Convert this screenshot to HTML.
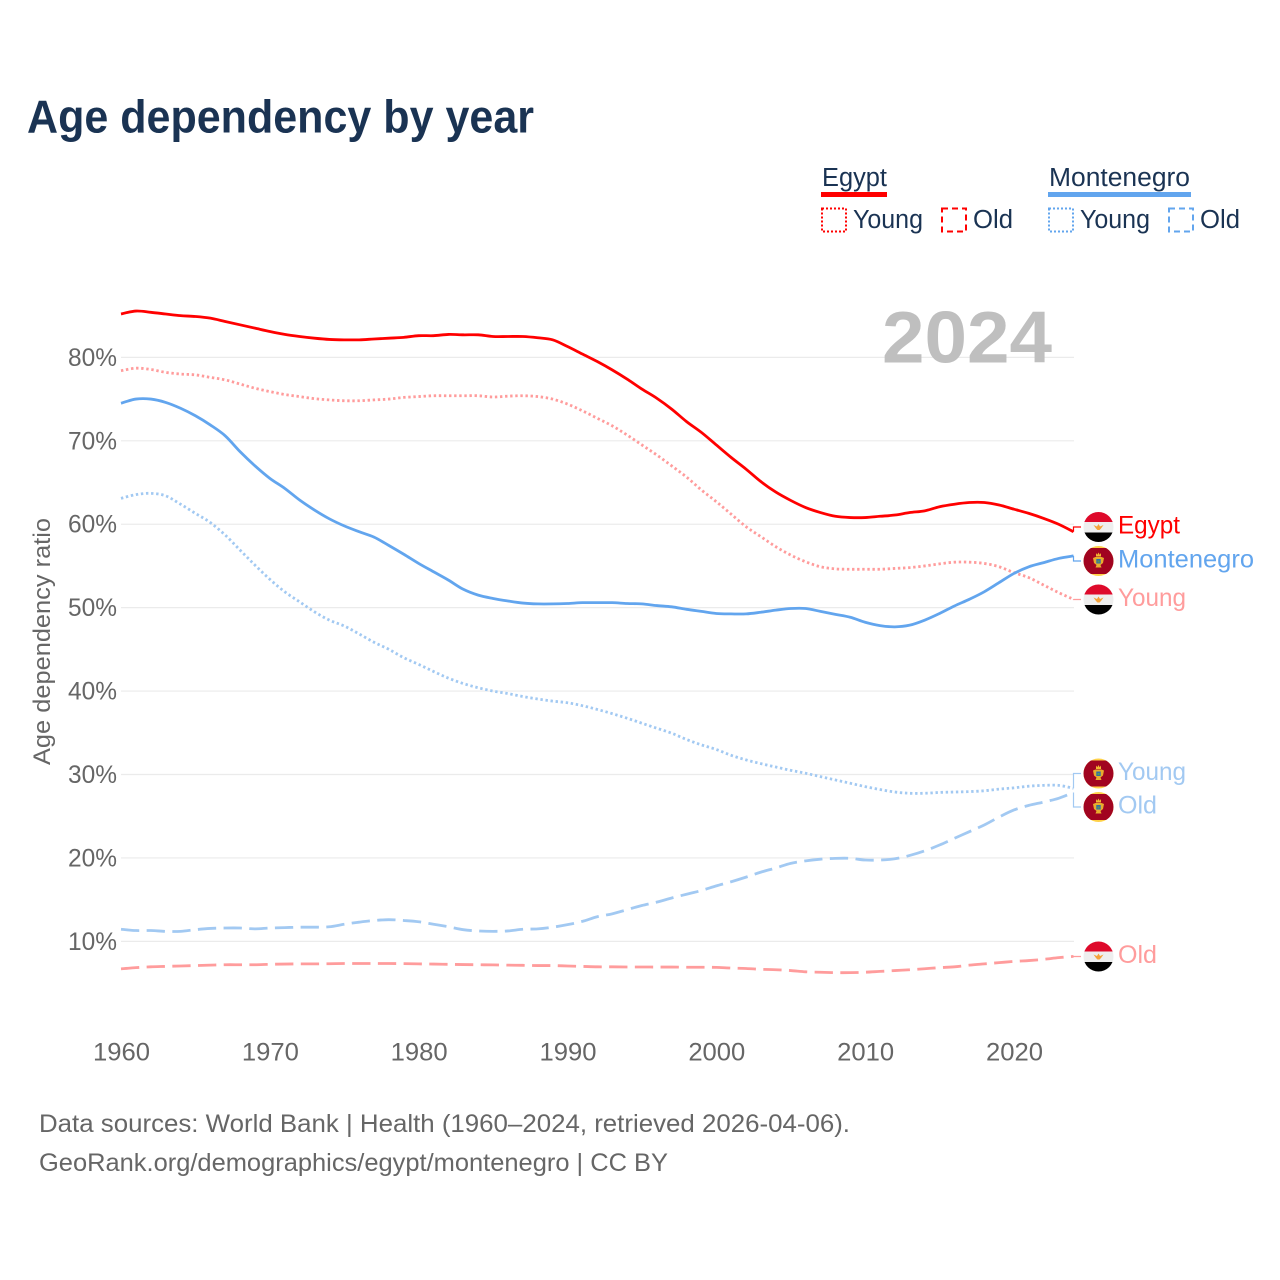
<!DOCTYPE html>
<html lang="en">
<head>
<meta charset="utf-8">
<title>Age dependency by year</title>
<style>
html,body{margin:0;padding:0;background:#fff;}
svg{display:block;font-family:"Liberation Sans",sans-serif;}
</style>
</head>
<body>
<svg id="chart" xmlns="http://www.w3.org/2000/svg" width="1280" height="1280" viewBox="0 0 1280 1280">
  <defs>
    <clipPath id="flag-clip"><circle cx="0" cy="0" r="15"/></clipPath>
    <g id="flag-egypt">
      <g clip-path="url(#flag-clip)">
        <rect x="-16" y="-16" width="32" height="11" fill="#de0a2b"/>
        <rect x="-16" y="-5" width="32" height="10.5" fill="#eeeeee"/>
        <rect x="-16" y="5.5" width="32" height="11" fill="#000000"/>
        <path d="M-5 -2 L-1.5 -0.5 L0 -3 L1.5 -0.5 L5 -2 L2.5 1.5 L1 3 L-1 3 L-2.5 1.5 Z" fill="#f4a23a"/>
      </g>
    </g>
    <g id="flag-montenegro">
      <g clip-path="url(#flag-clip)">
        <rect x="-16" y="-16" width="32" height="32" fill="#ffd24a"/>
        <rect x="-16" y="-13" width="32" height="26" fill="#a10420"/>
        <path d="M-2.500 -8 L-1.200 -6.300 L0 -8.500 L1.200 -6.300 L2.500 -8 L2.500 -4.500 L-2.500 -4.500 Z" fill="#f2b632"/>
        <path d="M-5.500 -3 L-3 -4 L3 -4 L5.500 -3 L4.500 2 L2 4 L3 6.500 L-3 6.500 L-2 4 L-4.500 2 Z" fill="#e8ad2e"/>
        <rect x="-2.200" y="-2" width="4.400" height="4.500" fill="#2f6fa8"/>
        <rect x="-1" y="-0.500" width="2" height="2" fill="#5e9e4c"/>
      </g>
    </g>
  </defs>

  <rect x="0" y="0" width="1280" height="1280" fill="#ffffff"/>

  <text x="27" y="132.500" font-size="46.500" font-weight="700" fill="#1a3353" textLength="507" lengthAdjust="spacingAndGlyphs">Age dependency by year</text>

  <g font-size="25.500" fill="#1a3353">
    <text x="822" y="186" textLength="65" lengthAdjust="spacingAndGlyphs">Egypt</text>
    <rect x="821" y="192" width="66" height="5" fill="#ff0000"/>
    <rect x="822" y="208.500" width="24" height="23" fill="none" stroke="#ff0000" stroke-width="2" stroke-dasharray="2 2"/>
    <text x="853" y="228" textLength="70" lengthAdjust="spacingAndGlyphs">Young</text>
    <rect x="942" y="208.500" width="24" height="23" fill="none" stroke="#ff0000" stroke-width="2" stroke-dasharray="6 4"/>
    <text x="973" y="228" textLength="40" lengthAdjust="spacingAndGlyphs">Old</text>

    <text x="1049" y="186" textLength="141" lengthAdjust="spacingAndGlyphs">Montenegro</text>
    <rect x="1048" y="192" width="143" height="5" fill="#62a5ee"/>
    <rect x="1049" y="208.500" width="24" height="23" fill="none" stroke="#62a5ee" stroke-width="2" stroke-dasharray="2 2"/>
    <text x="1080" y="228" textLength="70" lengthAdjust="spacingAndGlyphs">Young</text>
    <rect x="1169" y="208.500" width="24" height="23" fill="none" stroke="#62a5ee" stroke-width="2" stroke-dasharray="6 4"/>
    <text x="1200" y="228" textLength="40" lengthAdjust="spacingAndGlyphs">Old</text>
  </g>

  <g id="grid"></g>

  <text x="882" y="362.500" font-size="73" font-weight="700" fill="#bfbfbf" textLength="170" lengthAdjust="spacingAndGlyphs">2024</text>

  <g id="y-ticks"></g>
  <g id="x-ticks"></g>

  <text transform="translate(50,765) rotate(-90)" x="0" y="0" font-size="24.500" fill="#666666" textLength="247" lengthAdjust="spacingAndGlyphs">Age dependency ratio</text>

  <g id="series"></g>
  <g id="end-labels"></g>

  <text x="39" y="1132" font-size="25" fill="#666666" textLength="811" lengthAdjust="spacingAndGlyphs">Data sources: World Bank | Health (1960–2024, retrieved 2026-04-06).</text>
  <text x="39" y="1171" font-size="25" fill="#666666" textLength="629" lengthAdjust="spacingAndGlyphs">GeoRank.org/demographics/egypt/montenegro | CC BY</text>
</svg>

<script>
const startYear = 1960;
const endYear = 2024;
const yTickValues = [10, 20, 30, 40, 50, 60, 70, 80];
const yTickLabels = ['10%', '20%', '30%', '40%', '50%', '60%', '70%', '80%'];
const xTickValues = [1960, 1970, 1980, 1990, 2000, 2010, 2020];
const xTickLabels = ['1960', '1970', '1980', '1990', '2000', '2010', '2020'];

const egyptTotal = [85.2,85.55,85.4,85.2,85.0,84.9,84.7,84.3,83.9,83.5,83.1,82.75,82.5,82.3,82.15,82.1,82.1,82.2,82.3,82.4,82.6,82.6,82.75,82.7,82.7,82.5,82.5,82.5,82.35,82.1,81.3,80.4,79.5,78.5,77.4,76.2,75.1,73.8,72.3,71.0,69.5,68.0,66.6,65.1,63.85,62.85,62.0,61.4,60.95,60.8,60.8,60.95,61.1,61.4,61.6,62.1,62.4,62.6,62.6,62.3,61.8,61.3,60.7,60.0,59.1];
const egyptYoung = [78.4,78.7,78.55,78.2,78.0,77.9,77.6,77.3,76.8,76.3,75.9,75.55,75.3,75.05,74.9,74.8,74.8,74.9,75.0,75.2,75.3,75.4,75.4,75.4,75.4,75.25,75.35,75.4,75.3,75.0,74.4,73.6,72.7,71.8,70.7,69.5,68.3,67.0,65.65,64.1,62.7,61.2,59.7,58.5,57.3,56.3,55.5,54.9,54.65,54.6,54.6,54.6,54.7,54.8,55.0,55.25,55.45,55.45,55.3,54.9,54.2,53.6,52.7,51.8,51.0];
const egyptOld = [6.7,6.85,6.95,7.0,7.05,7.1,7.15,7.2,7.2,7.2,7.25,7.28,7.3,7.3,7.32,7.35,7.35,7.35,7.35,7.33,7.3,7.28,7.25,7.22,7.2,7.18,7.15,7.13,7.1,7.1,7.05,7.0,6.95,6.95,6.93,6.93,6.92,6.92,6.9,6.9,6.88,6.8,6.75,6.65,6.6,6.5,6.35,6.3,6.25,6.25,6.3,6.4,6.5,6.6,6.72,6.85,6.95,7.15,7.3,7.45,7.6,7.7,7.85,8.05,8.2];
const montenegroTotal = [74.5,75.0,75.0,74.6,73.9,73.0,71.9,70.6,68.7,67.0,65.5,64.3,62.9,61.7,60.65,59.8,59.1,58.45,57.45,56.4,55.3,54.3,53.3,52.2,51.5,51.1,50.8,50.55,50.45,50.45,50.5,50.6,50.6,50.6,50.5,50.45,50.25,50.1,49.8,49.55,49.3,49.25,49.25,49.45,49.7,49.9,49.9,49.55,49.2,48.85,48.25,47.85,47.7,47.9,48.5,49.3,50.2,51.0,51.9,53.0,54.1,54.9,55.4,55.9,56.2];
const montenegroYoung = [63.1,63.55,63.7,63.4,62.4,61.3,60.2,58.7,56.9,55.1,53.4,51.9,50.7,49.5,48.5,47.8,46.85,45.85,45.0,44.0,43.2,42.35,41.55,40.9,40.4,40.0,39.7,39.35,39.05,38.8,38.6,38.25,37.8,37.3,36.75,36.15,35.55,34.95,34.2,33.55,33.0,32.3,31.75,31.3,30.9,30.5,30.15,29.75,29.35,28.95,28.55,28.2,27.9,27.75,27.75,27.85,27.9,27.95,28.05,28.25,28.4,28.6,28.7,28.7,28.35];
const montenegroOld = [11.45,11.3,11.3,11.2,11.2,11.4,11.55,11.6,11.6,11.5,11.6,11.65,11.7,11.7,11.75,12.05,12.3,12.5,12.6,12.5,12.35,12.05,11.75,11.4,11.25,11.2,11.25,11.45,11.5,11.7,12.0,12.4,12.95,13.3,13.8,14.3,14.7,15.2,15.65,16.1,16.65,17.15,17.7,18.3,18.8,19.35,19.65,19.85,19.95,19.95,19.75,19.75,19.9,20.3,20.85,21.55,22.35,23.15,23.95,24.9,25.75,26.3,26.7,27.15,27.85];

const SVG_NS = 'http://www.w3.org/2000/svg';
const plotLeft = 121;
const plotRight = 1073.5;
const zeroY = 1024.8;
const pxPerPercent = 8.343;

function xScale(year) {
  return plotLeft + (year - startYear) * (plotRight - plotLeft) / (endYear - startYear);
}
function yScale(value) {
  return zeroY - value * pxPerPercent;
}
function make(tag, parent, attrs) {
  const el = document.createElementNS(SVG_NS, tag);
  Object.keys(attrs).forEach(function (k) { el.setAttribute(k, attrs[k]); });
  parent.appendChild(el);
  return el;
}

const gridGroup = document.getElementById('grid');
const yTickGroup = document.getElementById('y-ticks');
const xTickGroup = document.getElementById('x-ticks');
const seriesGroup = document.getElementById('series');
const labelGroup = document.getElementById('end-labels');

yTickValues.forEach(function (v, i) {
  const line = make('line', gridGroup, {x1: plotLeft, x2: plotRight + 0.5, y1: yScale(v), y2: yScale(v), stroke: '#ebebeb', 'stroke-width': 1.2});
  
  
  const t = make('text', yTickGroup, {x: 117, y: yScale(v) + 8.5, 'font-size': 25, fill: '#666666', 'text-anchor': 'end', textLength: 49, lengthAdjust: 'spacingAndGlyphs'});
  t.textContent = yTickLabels[i];
  
  
});

xTickValues.forEach(function (v, i) {
  const t = make('text', xTickGroup, {x: xScale(v) + 0.5, y: 1060.5, 'font-size': 25, fill: '#666666', 'text-anchor': 'middle', textLength: 57, lengthAdjust: 'spacingAndGlyphs'});
  t.textContent = xTickLabels[i];
  
  
});

function smoothPath(values) {
  const pts = values.map(function (v, i) {
    return [xScale(startYear + i), yScale(v)];
  });
  let d = 'M' + pts[0][0].toFixed(2) + ' ' + pts[0][1].toFixed(2);
  for (let i = 0; i < pts.length - 1; i++) {
    const p0 = pts[Math.max(i - 1, 0)];
    const p1 = pts[i];
    const p2 = pts[i + 1];
    const p3 = pts[Math.min(i + 2, pts.length - 1)];
    const c1x = p1[0] + (p2[0] - p0[0]) / 6;
    const c1y = p1[1] + (p2[1] - p0[1]) / 6;
    const c2x = p2[0] - (p3[0] - p1[0]) / 6;
    const c2y = p2[1] - (p3[1] - p1[1]) / 6;
    d += ' C' + c1x.toFixed(2) + ' ' + c1y.toFixed(2) + ' ' + c2x.toFixed(2) + ' ' + c2y.toFixed(2) + ' ' + p2[0].toFixed(2) + ' ' + p2[1].toFixed(2);
  }
  return d;
}

function drawSeries(values, color, width, dash, name) {
  const attrs = {d: smoothPath(values), fill: 'none', stroke: color, 'stroke-width': width, 'stroke-linejoin': 'round'};
  if (dash) { attrs['stroke-dasharray'] = dash; }
  const line = make('path', seriesGroup, attrs);
  
  
}

const RED = '#ff0000';
const RED_LIGHT = '#ff9c9c';
const BLUE = '#62a5ee';
const BLUE_LIGHT = '#a2c9f2';
const DOT = '2.4 2.7';
const DASH = '18.3 7.4';

drawSeries(egyptOld, RED_LIGHT, 2.8, DASH, 'line-egypt-old');
drawSeries(montenegroOld, BLUE_LIGHT, 2.8, DASH, 'line-montenegro-old');
drawSeries(montenegroYoung, BLUE_LIGHT, 2.8, DOT, 'line-montenegro-young');
drawSeries(egyptYoung, RED_LIGHT, 2.8, DOT, 'line-egypt-young');
drawSeries(montenegroTotal, BLUE, 2.8, null, 'line-montenegro-total');
drawSeries(egyptTotal, RED, 2.8, null, 'line-egypt-total');

function drawEndLabel(values, text, width, color, flag, labelY, name) {
  const endY = yScale(values[values.length - 1]);
  const leader = make('polyline', labelGroup, {
    points: plotRight + ',' + endY.toFixed(2) + ' ' + plotRight + ',' + labelY + ' 1081,' + labelY,
    fill: 'none', stroke: color, 'stroke-width': 1.2
  });
  
  
  const icon = make('use', labelGroup, {href: '#' + flag, transform: 'translate(1098.5,' + labelY + ')'});
  
  
  const t = make('text', labelGroup, {x: 1118, y: labelY + 6.5, 'font-size': 25, fill: color, textLength: width, lengthAdjust: 'spacingAndGlyphs'});
  t.textContent = text;
  
  
}

drawEndLabel(egyptTotal, 'Egypt', 62, RED, 'flag-egypt', 527, 'end-egypt-total');
drawEndLabel(montenegroTotal, 'Montenegro', 136, BLUE, 'flag-montenegro', 561, 'end-montenegro-total');
drawEndLabel(egyptYoung, 'Young', 68, RED_LIGHT, 'flag-egypt', 599.5, 'end-egypt-young');
drawEndLabel(montenegroYoung, 'Young', 68, BLUE_LIGHT, 'flag-montenegro', 773.5, 'end-montenegro-young');
drawEndLabel(montenegroOld, 'Old', 39, BLUE_LIGHT, 'flag-montenegro', 807, 'end-montenegro-old');
drawEndLabel(egyptOld, 'Old', 39, RED_LIGHT, 'flag-egypt', 956.5, 'end-egypt-old');
</script>
</body>
</html>
